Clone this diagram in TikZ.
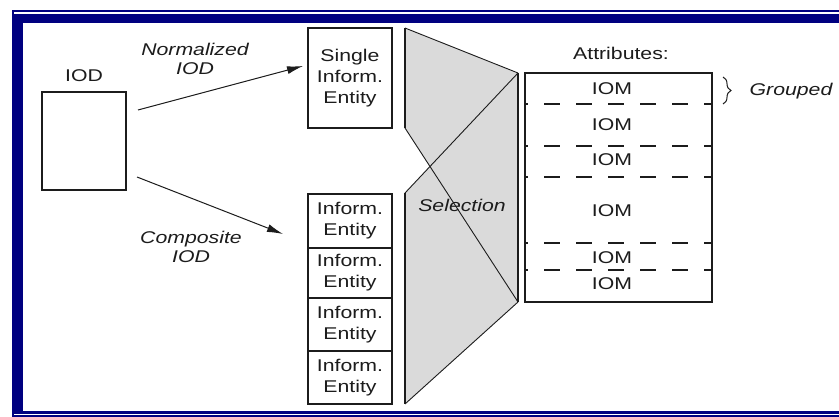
\documentclass[tikz,border=0pt]{standalone}
\usepackage{fontspec}
\setmainfont{Liberation Sans}[FakeStretch=1.25]
\usetikzlibrary{arrows.meta,decorations.pathreplacing}
\definecolor{framenavy}{RGB}{0,0,128}
\definecolor{selgray}{RGB}{218,218,218}
\definecolor{ink}{RGB}{28,28,28}

\begin{document}
\begin{tikzpicture}[x=1pt,y=-1pt,
  every node/.style={inner sep=0pt, outer sep=0pt, text=ink,
    font=\fontsize{17}{21}\selectfont},
  box/.style={draw=ink, line width=1.3pt, minimum width=84pt, align=center},
  lbl/.style={font=\fontsize{17}{19}\selectfont\itshape, align=center},
  arr/.style={draw=ink, line width=1pt, -{Latex[length=16pt,width=8pt]}},
  divider/.style={draw=ink, line width=1.2pt, dash pattern=on 16pt off 16pt, dash phase=13pt},
  thinedge/.style={draw=ink, line width=0.9pt},
  thickedge/.style={draw=ink, line width=1.4pt},
]
\useasboundingbox (0,0) rectangle (839,417);
\fill[white] (0,0) rectangle (839,417);

% window frame
\draw[framenavy, line width=1.6pt] (845,11) -- (12.7,11) -- (12.7,416.2) -- (845,416.2);
\fill[framenavy] (14,14) rectangle (839,23);
\fill[framenavy] (14,14) rectangle (23,413.7);
\fill[framenavy] (14,411) rectangle (839,413.7);

% selection funnel
\coordinate (p1) at (405,28);
\coordinate (p2) at (518,73);
\coordinate (p3) at (518,302);
\coordinate (p4) at (405,404);
\coordinate (q1) at (405,128);
\coordinate (q2) at (405,193);
\coordinate (cx) at (430,166.5);
\fill[selgray] (p1) -- (p2) -- (p3) -- (p4) -- (q2) -- (cx) -- (q1) -- cycle;
\draw[thickedge] (p1) -- (q1);
\draw[thickedge] (q2) -- (p4);
\draw[thickedge] (p2) -- (p3);
\draw[thinedge] (p1) -- (p2) (p3) -- (p4) (q1) -- (p3) (q2) -- (p2);
\node[lbl] (sellbl) at (462,205) {Selection};

% source object definition
\node[box, minimum height=98pt] (iod) at (84,141) {};
\node (iodlbl) at (84,76) {IOD};

% information entities
\node[box, minimum height=100pt] (single) at (350,78) {Single\\Inform.\\Entity};
\node[box, minimum height=54pt] (ent1) at (350,221) {Inform.\\Entity};
\node[box, minimum height=50pt] (ent2) at (350,273) {Inform.\\Entity};
\node[box, minimum height=53pt] (ent3) at (350,324.5) {Inform.\\Entity};
\node[box, minimum height=53pt] (ent4) at (350,377.5) {Inform.\\Entity};

% arrows and their labels
\draw[arr] ([shift={(12,-31)}]iod.east) -- ([shift={(-5,-12)}]single.west);
\draw[arr] ([shift={(11,36)}]iod.east) -- ([shift={(-25,13)}]ent1.west);
\node[lbl] (normlbl) at (195,58.5) {Normalized\\IOD};
\node[lbl] (complbl) at (191,247) {Composite\\IOD};

% attribute list
\node (attrlbl) at (621,53) {Attributes:};
\node[draw=ink, line width=1.3pt, minimum width=187pt, minimum height=229pt] (attr) at (618.5,187.5) {};
\foreach \d in {31,73,104,170,197}
  \draw[divider] ([yshift=-\d pt]attr.north west) -- ([yshift=-\d pt]attr.north east);
\node (iom1) at (612,89) {IOM};
\node (iom2) at (612,125) {IOM};
\node (iom3) at (612,160) {IOM};
\node (iom4) at (612,211) {IOM};
\node (iom5) at (612,258) {IOM};
\node (iom6) at (612,284) {IOM};

% grouping brace
\draw[ink, line width=1pt, decorate, decoration={brace, amplitude=8pt}] (723,77) -- (723,104);
\node[lbl] (grp) at (791,91) {Grouped};
\end{tikzpicture}
\end{document}
